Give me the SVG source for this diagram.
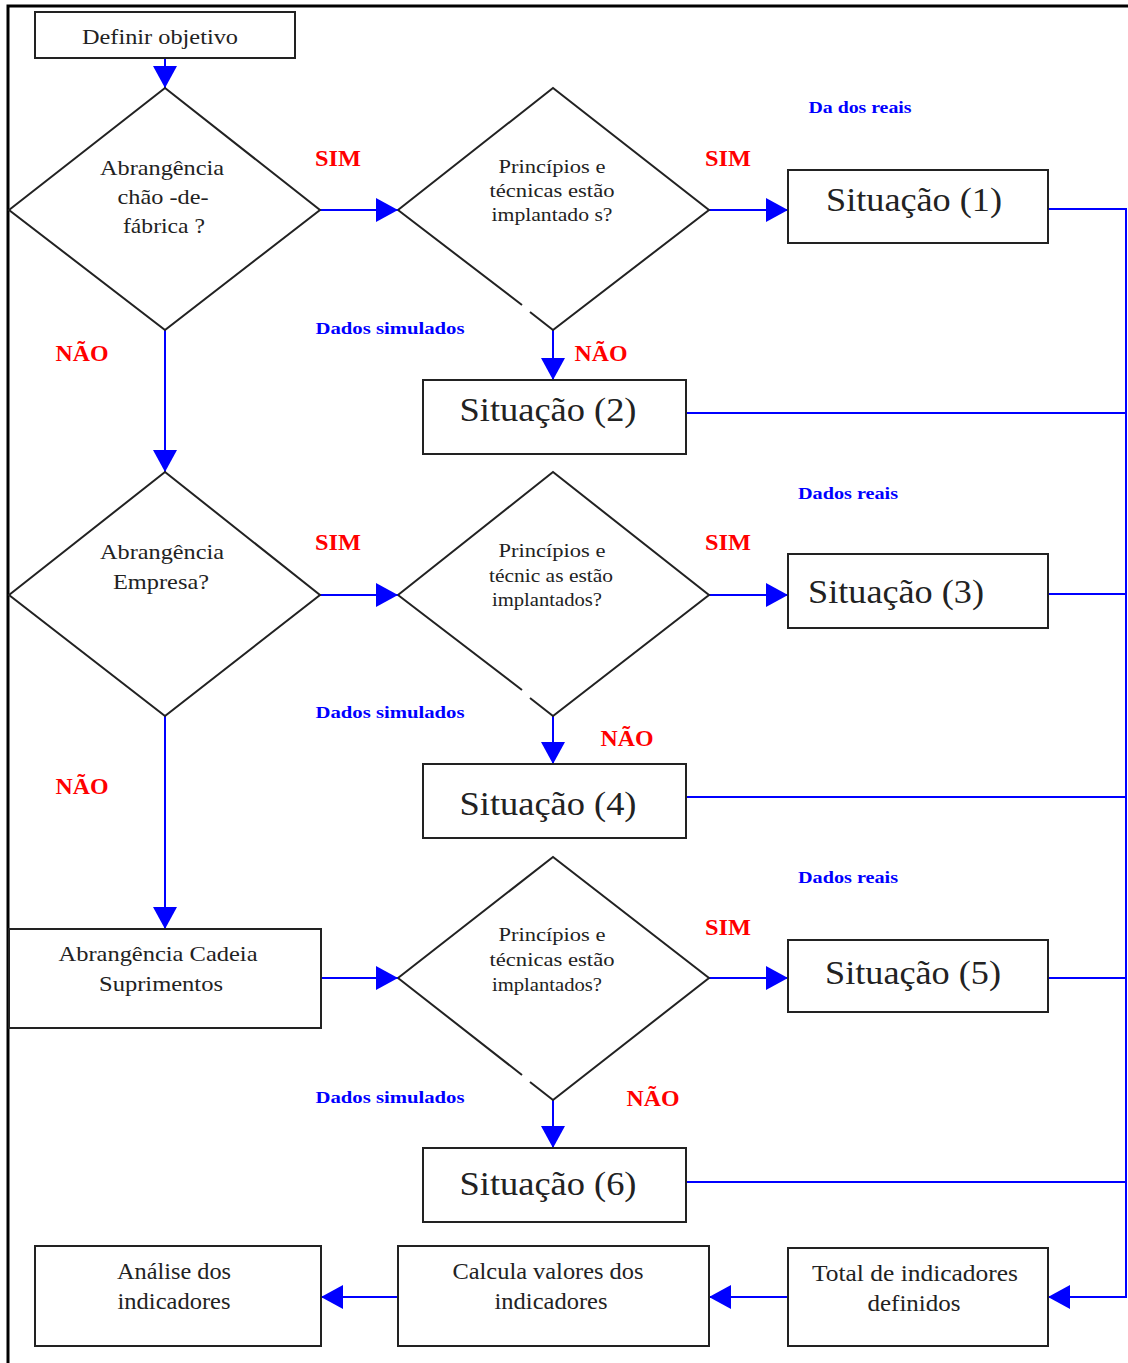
<svg xmlns="http://www.w3.org/2000/svg" width="1128" height="1363" viewBox="0 0 1128 1363">
  <style>
    .box { fill: #ffffff; stroke: #222222; stroke-width: 2; }
    .dia { fill: none; stroke: #222222; stroke-width: 2; }
    .wire { fill: none; stroke: #0000ff; stroke-width: 2; }
    .frame { fill: none; stroke: #000000; stroke-width: 3; }
    .t { font-family: "Liberation Serif", "Times New Roman", serif; fill: #222222; text-anchor: middle; }
    .big { font-size: 22px; }
    .q { font-size: 18px; }
    .sit { font-size: 34px; }
    .low { font-size: 23px; }
    .yes, .no { font-family: "Liberation Serif", "Times New Roman", serif; font-weight: bold; font-size: 23px; fill: #ff0000; text-anchor: middle; }
    .note { font-family: "Liberation Serif", "Times New Roman", serif; font-weight: bold; font-size: 16px; fill: #0000ff; text-anchor: middle; }
  </style>
  <defs>
    <marker id="arrow" viewBox="0 0 22 24" refX="22" refY="12" markerWidth="22" markerHeight="24" markerUnits="userSpaceOnUse" orient="auto">
      <path d="M0,0 L22,12 L0,24 Z" fill="#0000ff"/>
    </marker>
  </defs>

  <rect width="1128" height="1363" fill="#ffffff"/>
  <!-- page frame -->
  <path class="frame" d="M8,1363 L8,6 L1128,6"/>

  <!-- connectors -->
  <g id="connectors">
    <path class="wire" d="M165,58 L165,88" marker-end="url(#arrow)"/>
    <path class="wire" d="M320,210 L398,210" marker-end="url(#arrow)"/>
    <path class="wire" d="M709,210 L788,210" marker-end="url(#arrow)"/>
    <path class="wire" d="M553,330 L553,380" marker-end="url(#arrow)"/>
    <path class="wire" d="M165,330 L165,472" marker-end="url(#arrow)"/>
    <path class="wire" d="M320,595 L398,595" marker-end="url(#arrow)"/>
    <path class="wire" d="M709,595 L788,595" marker-end="url(#arrow)"/>
    <path class="wire" d="M553,716 L553,764" marker-end="url(#arrow)"/>
    <path class="wire" d="M165,716 L165,929" marker-end="url(#arrow)"/>
    <path class="wire" d="M321,978 L398,978" marker-end="url(#arrow)"/>
    <path class="wire" d="M709,978 L788,978" marker-end="url(#arrow)"/>
    <path class="wire" d="M553,1100 L553,1148" marker-end="url(#arrow)"/>
    <!-- collector bus on the right -->
    <path class="wire" d="M1048,209 L1126,209 L1126,1297 L1048,1297" marker-end="url(#arrow)"/>
    <path class="wire" d="M686,413 L1126,413"/>
    <path class="wire" d="M1048,594 L1126,594"/>
    <path class="wire" d="M686,797 L1126,797"/>
    <path class="wire" d="M1048,978 L1126,978"/>
    <path class="wire" d="M686,1182 L1126,1182"/>
    <path class="wire" d="M788,1297 L709,1297" marker-end="url(#arrow)"/>
    <path class="wire" d="M398,1297 L321,1297" marker-end="url(#arrow)"/>
  </g>

  <!-- branch labels -->
  <g id="labels">
    <text class="yes" x="338" y="166" textLength="46" lengthAdjust="spacingAndGlyphs">SIM</text>
    <text class="yes" x="728" y="166" textLength="46" lengthAdjust="spacingAndGlyphs">SIM</text>
    <text class="yes" x="338" y="550" textLength="46" lengthAdjust="spacingAndGlyphs">SIM</text>
    <text class="yes" x="728" y="550" textLength="46" lengthAdjust="spacingAndGlyphs">SIM</text>
    <text class="yes" x="728" y="935" textLength="46" lengthAdjust="spacingAndGlyphs">SIM</text>
    <text class="no" x="82" y="361" textLength="53" lengthAdjust="spacingAndGlyphs">NÃO</text>
    <text class="no" x="601" y="361" textLength="53" lengthAdjust="spacingAndGlyphs">NÃO</text>
    <text class="no" x="82" y="794" textLength="53" lengthAdjust="spacingAndGlyphs">NÃO</text>
    <text class="no" x="627" y="746" textLength="53" lengthAdjust="spacingAndGlyphs">NÃO</text>
    <text class="no" x="653" y="1106" textLength="53" lengthAdjust="spacingAndGlyphs">NÃO</text>
    <text class="note" x="860" y="113" textLength="103" lengthAdjust="spacingAndGlyphs">Da dos reais</text>
    <text class="note" x="848" y="499" textLength="100" lengthAdjust="spacingAndGlyphs">Dados reais</text>
    <text class="note" x="848" y="883" textLength="100" lengthAdjust="spacingAndGlyphs">Dados reais</text>
    <text class="note" x="390" y="334" textLength="149" lengthAdjust="spacingAndGlyphs">Dados  simulados</text>
    <text class="note" x="390" y="718" textLength="149" lengthAdjust="spacingAndGlyphs">Dados  simulados</text>
    <text class="note" x="390" y="1103" textLength="149" lengthAdjust="spacingAndGlyphs">Dados  simulados</text>
  </g>

  <!-- start -->
  <g id="definir-objetivo">
    <rect class="box" x="35" y="12" width="260" height="46"/>
    <text class="t big" x="160" y="44" textLength="156" lengthAdjust="spacingAndGlyphs">Definir objetivo</text>
  </g>

  <!-- scope decisions -->
  <g id="abrangencia-chao">
    <path class="dia" d="M9,210 L165,88 L320,210 L165,330 Z"/>
    <text class="t big" x="162" y="175" textLength="124" lengthAdjust="spacingAndGlyphs">Abrangência</text>
    <text class="t big" x="163" y="204" textLength="91" lengthAdjust="spacingAndGlyphs">chão -de-</text>
    <text class="t big" x="164" y="233" textLength="82" lengthAdjust="spacingAndGlyphs">fábrica ?</text>
  </g>
  <g id="abrangencia-empresa">
    <path class="dia" d="M9,595 L165,472 L320,595 L165,716 Z"/>
    <text class="t big" x="162" y="559" textLength="124" lengthAdjust="spacingAndGlyphs">Abrangência</text>
    <text class="t big" x="161" y="589" textLength="96" lengthAdjust="spacingAndGlyphs">Empresa?</text>
  </g>
  <g id="abrangencia-cadeia">
    <rect class="box" x="9" y="929" width="312" height="99"/>
    <text class="t big" x="158" y="961" textLength="199" lengthAdjust="spacingAndGlyphs">Abrangência Cadeia</text>
    <text class="t big" x="161" y="991" textLength="124" lengthAdjust="spacingAndGlyphs">Suprimentos</text>
  </g>

  <!-- implementation decisions -->
  <g id="principios-1">
    <path class="dia" d="M398,210 L553,88 L709,210 L553,330 L530,312 M522,305 L398,210"/>
    <text class="t q" x="552" y="173" textLength="107" lengthAdjust="spacingAndGlyphs">Princípios   e</text>
    <text class="t q" x="552" y="197" textLength="125" lengthAdjust="spacingAndGlyphs">técnicas  estão</text>
    <text class="t q" x="552" y="221" textLength="121" lengthAdjust="spacingAndGlyphs">implantado  s?</text>
  </g>
  <g id="principios-2">
    <path class="dia" d="M398,595 L553,472 L709,595 L553,716 L530,698 M522,690 L398,595"/>
    <text class="t q" x="552" y="557" textLength="107" lengthAdjust="spacingAndGlyphs">Princípios   e</text>
    <text class="t q" x="551" y="582" textLength="124" lengthAdjust="spacingAndGlyphs">técnic as estão</text>
    <text class="t q" x="547" y="606" textLength="110" lengthAdjust="spacingAndGlyphs">implantados?</text>
  </g>
  <g id="principios-3">
    <path class="dia" d="M398,978 L553,857 L709,978 L553,1100 L530,1082 M522,1075 L398,978"/>
    <text class="t q" x="552" y="941" textLength="107" lengthAdjust="spacingAndGlyphs">Princípios   e</text>
    <text class="t q" x="552" y="966" textLength="125" lengthAdjust="spacingAndGlyphs">técnicas  estão</text>
    <text class="t q" x="547" y="991" textLength="110" lengthAdjust="spacingAndGlyphs">implantados?</text>
  </g>

  <!-- situations -->
  <g id="situacao-1">
    <rect class="box" x="788" y="170" width="260" height="73"/>
    <text class="t sit" x="914" y="211" textLength="176" lengthAdjust="spacingAndGlyphs">Situação (1)</text>
  </g>
  <g id="situacao-2">
    <rect class="box" x="423" y="380" width="263" height="74"/>
    <text class="t sit" x="548" y="421" textLength="177" lengthAdjust="spacingAndGlyphs">Situação (2)</text>
  </g>
  <g id="situacao-3">
    <rect class="box" x="788" y="554" width="260" height="74"/>
    <text class="t sit" x="896" y="603" textLength="176" lengthAdjust="spacingAndGlyphs">Situação (3)</text>
  </g>
  <g id="situacao-4">
    <rect class="box" x="423" y="764" width="263" height="74"/>
    <text class="t sit" x="548" y="815" textLength="177" lengthAdjust="spacingAndGlyphs">Situação (4)</text>
  </g>
  <g id="situacao-5">
    <rect class="box" x="788" y="940" width="260" height="72"/>
    <text class="t sit" x="913" y="984" textLength="176" lengthAdjust="spacingAndGlyphs">Situação (5)</text>
  </g>
  <g id="situacao-6">
    <rect class="box" x="423" y="1148" width="263" height="74"/>
    <text class="t sit" x="548" y="1195" textLength="177" lengthAdjust="spacingAndGlyphs">Situação (6)</text>
  </g>

  <!-- final steps -->
  <g id="total-indicadores">
    <rect class="box" x="788" y="1248" width="260" height="98"/>
    <text class="t low" x="915" y="1281" textLength="206" lengthAdjust="spacingAndGlyphs">Total de  indicadores</text>
    <text class="t low" x="914" y="1311" textLength="93" lengthAdjust="spacingAndGlyphs">definidos</text>
  </g>
  <g id="calcula-valores">
    <rect class="box" x="398" y="1246" width="311" height="100"/>
    <text class="t low" x="548" y="1279" textLength="191" lengthAdjust="spacingAndGlyphs">Calcula valores dos</text>
    <text class="t low" x="551" y="1309" textLength="113" lengthAdjust="spacingAndGlyphs">indicadores</text>
  </g>
  <g id="analise-indicadores">
    <rect class="box" x="35" y="1246" width="286" height="100"/>
    <text class="t low" x="174" y="1279" textLength="114" lengthAdjust="spacingAndGlyphs">Análise dos</text>
    <text class="t low" x="174" y="1309" textLength="113" lengthAdjust="spacingAndGlyphs">indicadores</text>
  </g>
</svg>
